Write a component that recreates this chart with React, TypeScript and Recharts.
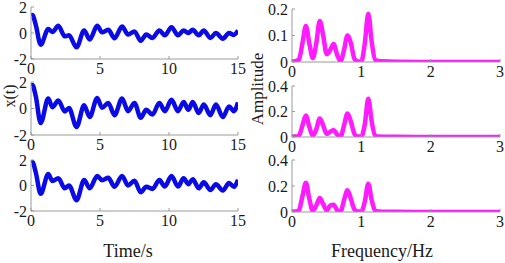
import React from 'react';
import { LineChart, Line, XAxis, YAxis } from 'recharts';

// time response samples (s), read at the peaks/troughs of the curves
const times = [0, 0.1, 0.35, 0.7, 1.25, 1.55, 1.98, 2.45, 2.75, 3.3, 3.85, 4.25, 4.8, 5.15, 5.6, 6.05, 6.6, 7.03, 7.5, 7.95, 8.35, 8.8, 9.3, 9.7, 10.18, 10.65, 11.06, 11.4, 11.72, 12.15, 12.52, 13.0, 13.4, 13.9, 14.35, 14.7, 15];
const x1 = [1.3, 1.38, 0.6, -0.9, 0.3, 0.08, 0.55, -0.25, -0.18, -1.1, 0.2, -0.5, 0.55, 0.05, 0.25, -0.4, 0.5, -0.12, 0.12, -0.6, -0.12, -0.38, 0.2, -0.18, 0.45, -0.18, 0.2, 0.0, 0.25, -0.18, 0.2, -0.38, 0.0, -0.44, 0.0, -0.15, 0.2];
const x2 = [1.7, 1.78, 0.9, -1.1, 0.75, 0.1, 0.6, -0.22, 0.04, -1.4, 0.25, -0.65, 0.8, 0.05, 0.42, -0.5, 0.75, -0.2, 0.42, -0.7, -0.1, -0.46, 0.42, -0.2, 0.66, -0.2, 0.5, -0.1, 0.5, -0.34, 0.3, -0.5, 0.3, -0.65, 0.16, -0.2, 0.45];
const x3 = [1.8, 1.85, 1.0, -0.65, 0.9, 0.35, 0.56, -0.22, 0.0, -1.15, 0.43, -0.22, 0.75, 0.42, 0.6, -0.1, 0.75, 0.0, 0.38, -0.53, -0.1, -0.27, 0.43, -0.08, 0.75, -0.08, 0.56, 0.1, 0.5, -0.22, 0.25, -0.35, 0.1, -0.4, 0.2, -0.1, 0.45];

// amplitude spectra (Hz)
const freqs = [0, 0.05, 0.1, 0.15, 0.2, 0.25, 0.3, 0.35, 0.4, 0.45, 0.5, 0.55, 0.6, 0.65, 0.7, 0.75, 0.8, 0.85, 0.9, 0.95, 1.0, 1.05, 1.1, 1.15, 1.2, 1.25, 1.3, 1.5, 2, 2.5, 3];
const a1 = [0.002, 0.003, 0.01, 0.07, 0.136, 0.07, 0.015, 0.07, 0.155, 0.1, 0.03, 0.045, 0.068, 0.028, 0.003, 0.045, 0.1, 0.07, 0.012, 0.002, 0.003, 0.07, 0.182, 0.075, 0.008, 0.004, 0.003, 0.001, 0, 0, 0];
const a2 = [0.003, 0.003, 0.01, 0.09, 0.168, 0.08, 0.01, 0.06, 0.145, 0.09, 0.025, 0.04, 0.055, 0.02, 0.003, 0.09, 0.185, 0.12, 0.025, 0.003, 0.005, 0.1, 0.3, 0.12, 0.01, 0.003, 0.002, 0.001, 0, 0, 0];
const a3 = [0.002, 0.003, 0.015, 0.12, 0.225, 0.1, 0.01, 0.05, 0.108, 0.06, 0.012, 0.05, 0.055, 0.015, 0.003, 0.09, 0.167, 0.1, 0.02, 0.003, 0.005, 0.08, 0.218, 0.09, 0.008, 0.003, 0.002, 0.001, 0, 0, 0];

const timeData = times.map((t, i) => ({ t, x1: x1[i], x2: x2[i], x3: x3[i] }));
const freqData = freqs.map((f, i) => ({ f, a1: a1[i], a2: a2[i], a3: a3[i] }));

const font = 'Liberation Serif, serif';
const frame = '#9a9a9a';
const ink = '#1a1a1a';
const blank = () => '';
const tickText = { fontFamily: font, fontSize: 16, fill: ink };

const BottomTick = ({ x, y, payload }: any) => (
  <text x={x} y={y} dy="0.75em" textAnchor="middle" style={tickText}>{payload.value}</text>
);
const LeftTick = ({ x, y, payload }: any) => (
  <text x={x} y={y} dy="0.35em" textAnchor="end" style={tickText}>{payload.value}</text>
);

type PanelProps = {
  px: number; py: number; pw: number; ph: number;
  data: any[]; xKey: string; yKey: string;
  xDomain: number[]; xTicks: number[];
  yDomain: number[]; yTicks: number[];
  color: string;
};

const Panel = ({ px, py, pw, ph, data, xKey, yKey, xDomain, xTicks, yDomain, yTicks, color }: PanelProps) => (
  <div style={{ position: 'absolute', left: px - 40, top: py - 10 }}>
    <LineChart width={pw + 55} height={ph + 30} data={data} margin={{ top: 10, right: 15, left: 0, bottom: 0 }}>
      <XAxis dataKey={xKey} type="number" domain={xDomain} ticks={xTicks} height={20} allowDataOverflow interval={0}
        axisLine={{ stroke: frame }} tickLine={{ stroke: frame }} tickSize={-3} tickMargin={6} tick={<BottomTick />} />
      <XAxis xAxisId="top" orientation="top" dataKey={xKey} type="number" domain={xDomain} ticks={xTicks} height={0} interval={0}
        axisLine={{ stroke: frame }} tickLine={{ stroke: frame }} tickSize={-3} tickFormatter={blank} />
      <YAxis type="number" domain={yDomain} ticks={yTicks} width={40} allowDataOverflow interval={0}
        axisLine={{ stroke: frame }} tickLine={{ stroke: frame }} tickSize={-3} tickMargin={7} tick={<LeftTick />} />
      <YAxis yAxisId="right" orientation="right" type="number" domain={yDomain} ticks={yTicks} width={0} interval={0}
        axisLine={{ stroke: frame }} tickLine={{ stroke: frame }} tickSize={-3} tickFormatter={blank} />
      <Line dataKey={yKey} type="monotone" stroke={color} strokeWidth={4.5} dot={false} isAnimationActive={false} />
    </LineChart>
  </div>
);

const blue = '#0a0ae6';
const magenta = '#ff1aff';

export default function App() {
  const left = { px: 31, pw: 207, data: timeData, xKey: 't', xDomain: [0, 15], xTicks: [0, 5, 10, 15], yDomain: [-2, 2], yTicks: [-2, 0, 2], color: blue };
  const right = { px: 292, pw: 208, data: freqData, xKey: 'f', xDomain: [0, 3], xTicks: [0, 1, 2, 3], color: magenta };
  return (
    <div style={{ position: 'absolute', left: 0, top: 0, width: 505, height: 263, overflow: 'hidden', background: '#fff', fontFamily: font }}>
      <Panel {...left} py={7} ph={52} yKey="x1" />
      <Panel {...left} py={82} ph={53} yKey="x2" />
      <Panel {...left} py={160} ph={51} yKey="x3" />
      <Panel {...right} py={9} ph={53} yKey="a1" yDomain={[0, 0.2]} yTicks={[0, 0.1, 0.2]} />
      <Panel {...right} py={86} ph={51} yKey="a2" yDomain={[0, 0.4]} yTicks={[0, 0.2, 0.4]} />
      <Panel {...right} py={160} ph={52} yKey="a3" yDomain={[0, 0.4]} yTicks={[0, 0.2, 0.4]} />
      <div style={{ position: 'absolute', left: 10, top: 96, transform: 'translate(-50%, -50%) rotate(-90deg)', fontSize: 16, color: ink, whiteSpace: 'nowrap' }}>x(t)</div>
      <div style={{ position: 'absolute', left: 258, top: 89, transform: 'translate(-50%, -50%) rotate(-90deg)', fontSize: 17, color: ink, whiteSpace: 'nowrap' }}>Amplitude</div>
      <div style={{ position: 'absolute', left: 128, top: 251, transform: 'translate(-50%, -50%)', fontSize: 18, color: ink, whiteSpace: 'nowrap' }}>Time/s</div>
      <div style={{ position: 'absolute', left: 382, top: 251, transform: 'translate(-50%, -50%)', fontSize: 18, color: ink, whiteSpace: 'nowrap' }}>Frequency/Hz</div>
    </div>
  );
}
